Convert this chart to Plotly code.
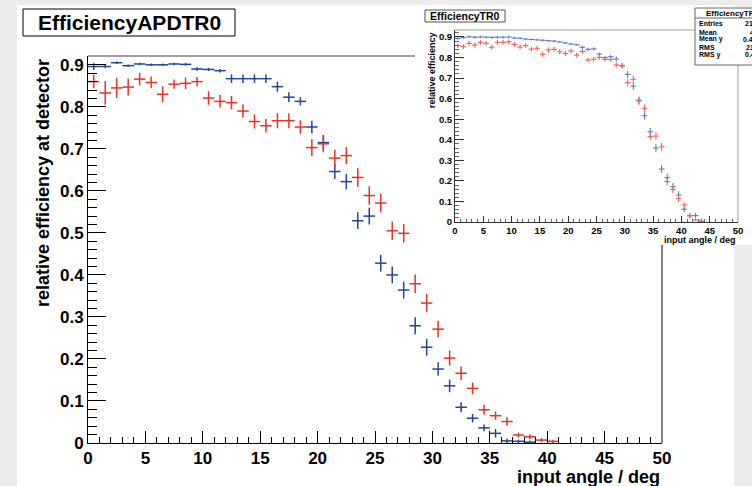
import plotly.graph_objects as go

W, H = 752, 486

# ---------------- data (main plot: EfficiencyAPDTR0) ----------------
main_x = [i + 0.5 for i in range(41)]
main_blue = [0.896, 0.896, 0.905, 0.898, 0.902, 0.900, 0.900, 0.902, 0.901, 0.890,
             0.889, 0.886, 0.867, 0.867, 0.867, 0.867, 0.848, 0.823, 0.813, 0.752,
             0.715, 0.646, 0.622, 0.529, 0.540, 0.428, 0.400, 0.364, 0.279, 0.228,
             0.176, 0.136, 0.085, 0.059, 0.036, 0.023, 0.005, 0.004, 0.002]
main_blue_err = [0.008, 0.004, 0.003, 0.003, 0.003, 0.003, 0.003, 0.003, 0.003, 0.004,
                 0.004, 0.004, 0.010, 0.010, 0.010, 0.010, 0.012, 0.012, 0.010, 0.015,
                 0.018, 0.018, 0.018, 0.020, 0.020, 0.020, 0.020, 0.020, 0.020, 0.020,
                 0.016, 0.015, 0.012, 0.010, 0.008, 0.010, 0.005, 0.004, 0.004]
main_red = [0.860, 0.833, 0.845, 0.847, 0.866, 0.858, 0.830, 0.854, 0.856, 0.860,
            0.821, 0.813, 0.810, 0.790, 0.765, 0.755, 0.767, 0.767, 0.752, 0.703,
            0.712, 0.678, 0.684, 0.632, 0.589, 0.571, 0.505, 0.499, 0.379, 0.333,
            0.271, 0.202, 0.166, 0.130, 0.079, 0.065, 0.051, 0.019, 0.015, 0.007,
            0.004]
main_red_err = [0.016, 0.028, 0.024, 0.020, 0.015, 0.014, 0.019, 0.011, 0.014, 0.011,
                0.016, 0.015, 0.016, 0.016, 0.017, 0.016, 0.018, 0.018, 0.016, 0.020,
                0.020, 0.020, 0.020, 0.022, 0.022, 0.022, 0.022, 0.022, 0.022, 0.022,
                0.020, 0.018, 0.016, 0.014, 0.012, 0.010, 0.010, 0.006, 0.006, 0.005,
                0.004]

# ---------------- data (inset: EfficiencyTR0) ----------------
inset_x = [i + 0.5 for i in range(44)]
inset_blue = [0.893, 0.897, 0.901, 0.899, 0.900, 0.899, 0.898, 0.899, 0.899, 0.900,
              0.895, 0.894, 0.890, 0.888, 0.886, 0.884, 0.882, 0.880, 0.876, 0.871,
              0.866, 0.862, 0.850, 0.840, 0.842, 0.817, 0.800, 0.804, 0.793, 0.761,
              0.718, 0.661, 0.593, 0.517, 0.439, 0.360, 0.258, 0.216, 0.172, 0.131,
              0.062, 0.031, 0.031, 0.003]
inset_blue_err = [0.006] * 10 + [0.005] * 12 + [0.008] * 6 + [0.012] * 2 + \
                 [0.018] * 10 + [0.014] * 4
inset_red = [0.858, 0.853, 0.869, 0.861, 0.874, 0.869, 0.850, 0.874, 0.874, 0.877,
             0.864, 0.851, 0.858, 0.841, 0.845, 0.816, 0.837, 0.840, 0.828, 0.820,
             0.832, 0.812, 0.830, 0.788, 0.792, 0.801, 0.791, 0.791, 0.764, 0.759,
             0.678, 0.694, 0.588, 0.553, 0.415, 0.418, 0.366, 0.196, 0.159, 0.115,
             0.083, 0.030, 0.010, 0.004]
inset_red_err = [0.012] * 30 + [0.018] * 10 + [0.012, 0.008, 0.005, 0.004]

x_ticks = [0, 5, 10, 15, 20, 25, 30, 35, 40, 45, 50]

stats_labels = ["Entries", "Mean", "Mean y", "RMS", "RMS y"]
stats_values = ["2150", "4", "0.4", "23", "0.4"]

BLUE = "#24449a"
RED = "#e5332a"
BLUE_I = "#5b7bd0"
RED_I = "#f0625a"
FONT = "Liberation Sans"


def X(px):
    return px / W


def Y(py):
    return 1 - py / H


fig = go.Figure()


def add_series(xs, ys, errs, color, thick, xa, ya):
    fig.add_trace(go.Scatter(
        x=xs[:len(ys)], y=ys, mode="markers",
        marker=dict(size=1, color=color, opacity=0), xaxis=xa, yaxis=ya,
        error_x=dict(type="constant", value=0.5, width=0, thickness=thick, color=color),
        error_y=dict(type="data", array=errs, width=0, thickness=thick, color=color),
        showlegend=False, hoverinfo="skip"))


add_series(main_x, main_blue, main_blue_err, BLUE, 1.5, "x", "y")
add_series(main_x, main_red, main_red_err, RED, 1.5, "x", "y")
add_series(inset_x, inset_blue, inset_blue_err, BLUE_I, 1.1, "x2", "y2")
add_series(inset_x, inset_red, inset_red_err, RED_I, 1.1, "x2", "y2")

tickfont_main = dict(family=FONT, size=17, color="black", weight="bold")
tickfont_inset = dict(family=FONT, size=9.5, color="black", weight="bold")

fig.update_layout(
    width=W, height=H, margin=dict(l=0, r=0, t=0, b=0, pad=0, autoexpand=False),
    paper_bgcolor="#ececec", plot_bgcolor="white", showlegend=False,
    xaxis=dict(domain=[X(88), X(662)], range=[0, 50], tickvals=x_ticks,
               ticks="inside", ticklen=12, tickwidth=1, tickcolor="black",
               minor=dict(dtick=1, ticks="inside", ticklen=6, tickcolor="black"),
               showline=True, linecolor="black", linewidth=1, automargin=False,
               showgrid=False, zeroline=False, tickfont=tickfont_main,
               anchor="y"),
    yaxis=dict(domain=[Y(443), Y(56)], range=[0, 0.921], dtick=0.1,
               ticks="inside", ticklen=18, tickwidth=1, tickcolor="black",
               minor=dict(dtick=0.02, ticks="inside", ticklen=9, tickcolor="black"),
               showline=True, linecolor="black", linewidth=1, automargin=False,
               showgrid=False, zeroline=False, tickfont=tickfont_main,
               anchor="x"),
    xaxis2=dict(domain=[X(455), X(738)], range=[0, 50], tickvals=x_ticks,
                ticks="inside", ticklen=6, tickwidth=1, tickcolor="#333",
                minor=dict(dtick=1, ticks="inside", ticklen=3, tickcolor="#666"),
                showline=True, linecolor="#333", linewidth=1, automargin=False,
                showgrid=False, zeroline=False, tickfont=tickfont_inset,
                anchor="y2"),
    yaxis2=dict(domain=[Y(222), Y(30)], range=[0, 0.934], dtick=0.1,
                ticks="inside", ticklen=9, tickwidth=1, tickcolor="#333",
                minor=dict(dtick=0.02, ticks="inside", ticklen=4, tickcolor="#666"),
                showline=True, linecolor="#333", linewidth=1, automargin=False,
                showgrid=False, zeroline=False, tickfont=tickfont_inset,
                anchor="x2"),
)

shapes = [
    # main white pad
    dict(type="rect", xref="paper", yref="paper", x0=X(17), x1=X(734), y0=Y(490), y1=Y(5),
         fillcolor="white", line=dict(width=0), layer="below"),
    # main frame top and right
    dict(type="line", xref="paper", yref="paper", x0=X(88), x1=X(662), y0=Y(56), y1=Y(56),
         line=dict(color="#808080", width=1.5), layer="below"),
    dict(type="line", xref="paper", yref="paper", x0=X(662), x1=X(662), y0=Y(56), y1=Y(443),
         line=dict(color="black", width=1), layer="below"),
    # inset white area
    dict(type="rect", xref="paper", yref="paper", x0=X(415), x1=X(760), y0=Y(245), y1=Y(7),
         fillcolor="white", line=dict(width=0), layer="below"),
    # inset frame top and right
    dict(type="line", xref="paper", yref="paper", x0=X(455), x1=X(738), y0=Y(30), y1=Y(30),
         line=dict(color="#a0a0a0", width=1), layer="above"),
    dict(type="line", xref="paper", yref="paper", x0=X(738), x1=X(738), y0=Y(30), y1=Y(222),
         line=dict(color="#a0a0a0", width=1), layer="above"),
    # main title box
    dict(type="rect", xref="paper", yref="paper", x0=X(23), x1=X(235), y0=Y(36), y1=Y(9),
         fillcolor="white", line=dict(color="black", width=1), layer="above"),
    # inset title box
    dict(type="rect", xref="paper", yref="paper", x0=X(425), x1=X(505), y0=Y(22), y1=Y(10),
         fillcolor="white", line=dict(color="#555", width=1), layer="above"),
    # stats box
    dict(type="rect", xref="paper", yref="paper", x0=X(695), x1=X(770), y0=Y(65), y1=Y(8),
         fillcolor="white", line=dict(color="#666", width=1), layer="above"),
    dict(type="line", xref="paper", yref="paper", x0=X(695), x1=X(770), y0=Y(18), y1=Y(18),
         line=dict(color="#666", width=1), layer="above"),
]
fig.update_layout(shapes=shapes)

ann = []


def text(px, py, s, size, xanchor="center", yanchor="middle", angle=0, color="black"):
    ann.append(dict(xref="paper", yref="paper", x=X(px), y=Y(py), text=s,
                    showarrow=False, xanchor=xanchor, yanchor=yanchor, textangle=angle,
                    font=dict(family=FONT, size=size, color=color, weight="bold")))


text(129, 22.5, "EfficiencyAPDTR0", 21)
text(43, 57, "relative efficiency at detector", 18, yanchor="top", angle=-90)
text(662, 477, "input angle / deg", 18, xanchor="right")

text(465, 16, "EfficiencyTR0", 10.5)
text(432, 30, "relative efficiency", 9, yanchor="top", angle=-90)
text(738, 240, "input angle / deg", 9, xanchor="right")

text(704, 13, "EfficiencyTR0", 8, xanchor="left")
rows_y = [23.5, 32, 39.5, 47.5, 55]
vals_x = [743, 748, 741, 744, 743]
for lab, val, ry, vx in zip(stats_labels, stats_values, rows_y, vals_x):
    text(697, ry, lab, 7, xanchor="left")
    text(vx, ry, val, 7, xanchor="left")

fig.update_layout(annotations=ann)

fig.write_html("out.html")
